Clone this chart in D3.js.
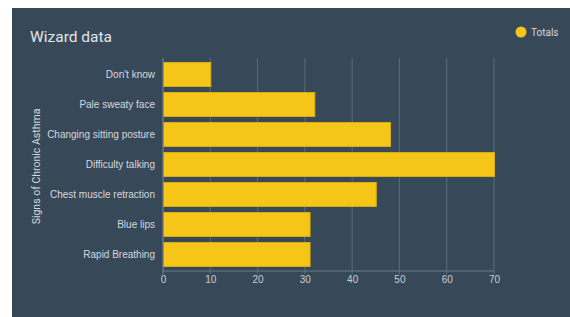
<!DOCTYPE html>
<html>
<head>
<meta charset="utf-8">
<script src="https://cdn.jsdelivr.net/npm/d3@7"></script>
<style>
  body { margin: 0; background: #fff; }
  svg { display: block; font-family: Roboto, "Liberation Sans", Arial, sans-serif; }
</style>
</head>
<body>
<svg id="chart" width="570" height="317"></svg>
<script>
// chart data
var categories = ["Don't know", "Pale sweaty face", "Changing sitting posture",
  "Difficulty talking", "Chest muscle retraction", "Blue lips", "Rapid Breathing"];
var totals = [10, 32, 48, 70, 45, 31, 31];
var xTicks = [0, 10, 20, 30, 40, 50, 60, 70];
var seriesName = "Totals";

var W = 570, H = 317;
var margin = { left: 163, right: 76, top: 58, bottom: 46 };
var width = W - margin.left - margin.right;
var height = H - margin.top - margin.bottom;

var svg = d3.select("#chart");

// panel background
svg.append("rect")
  .attr("x", 12).attr("y", 8)
  .attr("width", W - 12).attr("height", H - 8)
  .attr("fill", "#374859");

svg.append("text")
  .attr("x", 30).attr("y", 42)
  .attr("fill", "#e3e6ea")
  .attr("font-size", 15.5)
  .text("Wizard data");

var g = svg.append("g")
  .attr("transform", "translate(" + margin.left + "," + margin.top + ")");

var x = d3.scaleLinear().domain([0, 70]).range([0, width]);
var y = d3.scaleBand().domain(categories).range([0, height]).paddingInner(0.2).paddingOuter(0.15);

// grid lines
g.selectAll(".grid")
  .data(xTicks)
  .enter().append("line")
  .attr("x1", function (d) { return x(d); })
  .attr("x2", function (d) { return x(d); })
  .attr("y1", 0).attr("y2", height + 3)
  .attr("stroke", "#5b6b7c")
  .attr("stroke-width", 1);

// bars
g.selectAll(".bar")
  .data(totals)
  .enter().append("rect")
  .attr("x", x(0) + 0.5)
  .attr("y", function (d, i) { return y(categories[i]); })
  .attr("width", function (d) { return x(d) - x(0); })
  .attr("height", y.bandwidth())
  .attr("fill", "#f5c518")
  .attr("stroke", "#d8ac14")
  .attr("stroke-width", 1);

// axes
g.append("line")
  .attr("x1", 0).attr("x2", width)
  .attr("y1", height).attr("y2", height)
  .attr("stroke", "#6a7a8a");
g.append("line")
  .attr("x1", 0).attr("x2", 0)
  .attr("y1", 0).attr("y2", height + 3)
  .attr("stroke", "#6a7a8a");

var xAxis = g.append("g")
  .attr("transform", "translate(0," + height + ")")
  .call(d3.axisBottom(x).tickValues(xTicks).tickSize(0).tickPadding(5));
xAxis.select(".domain").remove();
xAxis.selectAll("text").attr("fill", "#c9ced4").attr("font-size", 10);

var yAxis = g.append("g")
  .call(d3.axisLeft(y).tickSize(0).tickPadding(8));
yAxis.select(".domain").remove();
yAxis.selectAll("text").attr("fill", "#d5d9de").attr("font-size", 10);

// y axis title
svg.append("text")
  .attr("transform", "translate(40," + (margin.top + height / 2 + 2) + ") rotate(-90)")
  .attr("text-anchor", "middle")
  .attr("fill", "#d5d9de")
  .attr("font-size", 10.5)
  .text("Signs of Chronic Asthma");

// legend
svg.append("circle")
  .attr("cx", 521).attr("cy", 32).attr("r", 5.5)
  .attr("fill", "#f5c518");
svg.append("text")
  .attr("x", 531).attr("y", 35.5)
  .attr("fill", "#d5d9de")
  .attr("font-size", 10)
  .text(seriesName);
</script>
</body>
</html>
